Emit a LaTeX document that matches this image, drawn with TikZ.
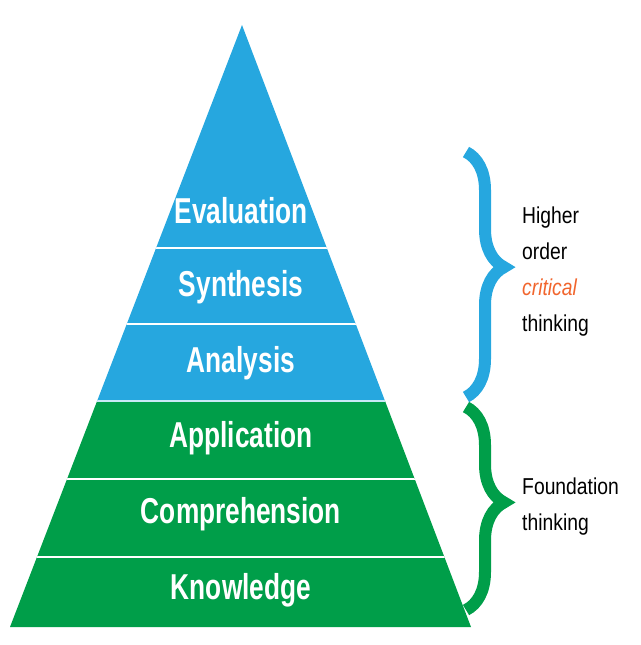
\documentclass[tikz,border=0pt]{standalone}
\usepackage{fontspec}
\usepackage{tikz}
\usetikzlibrary{decorations.pathreplacing}
\newfontfamily\tierfont[FakeStretch=0.73]{Liberation Sans}
\newfontfamily\sidefont[FakeStretch=0.84]{Liberation Sans}
\definecolor{pyrblue}{RGB}{38,167,223}
\definecolor{pyrgreen}{RGB}{0,158,73}
\definecolor{critorange}{RGB}{241,101,45}

\begin{document}
\begin{tikzpicture}[x=1pt, y=-1pt,
      tier/.style={text=white, anchor=base,
        font=\tierfont\bfseries\fontsize{36}{40}\selectfont},
      side/.style={anchor=west, align=left, inner sep=0pt,
        font=\sidefont\fontsize{23}{36}\selectfont},
      bracket/.style={decorate, line width=12pt,
        decoration={brace, amplitude=38pt, aspect=0.47}}]
  \useasboundingbox (0,0) rectangle (640,645);
  \coordinate (apex) at (242,25);
  \coordinate (baseL) at (10,627);
  \coordinate (baseR) at (471,627);
  % pyramid, cut into six tiers
  \begin{scope}
    \clip (apex) -- (baseR) -- (baseL) -- cycle;
    \fill[pyrblue] (0,0) rectangle (640,401);
    \fill[pyrgreen] (0,401) rectangle (640,645);
    \foreach \y in {248,324,479,557}
      \draw[white, line width=2pt] (0,\y) -- (640,\y);
    \draw[pyrblue!25!white, line width=2pt] (0,401) -- (640,401);
  \end{scope}
  \node[tier] (eval) at (241,223) {Evaluation};
  \node[tier] (synth) at (241,296) {Synthesis};
  \node[tier] (anal) at (241,372) {Analysis};
  \node[tier] (appl) at (241,447) {Application};
  \node[tier] (compr) at (241,523) {Comprehension};
  \node[tier] (knowl) at (241,599) {Knowledge};
  % braces and their texts
  \coordinate (hiTop) at (466,152);
  \coordinate (hiBot) at (466,397);
  \coordinate (loTop) at (466,407);
  \coordinate (loBot) at (466,610);
  \draw[bracket, pyrblue] (hiTop) -- (hiBot);
  \draw[bracket, pyrgreen] (loTop) -- (loBot);
  \node[side] (higher) at (522,272)
        {Higher\\order\\\textcolor{critorange}{\itshape critical}\\thinking};
  \node[side] (found) at (522,507) {Foundation\\thinking};
\end{tikzpicture}
\end{document}
